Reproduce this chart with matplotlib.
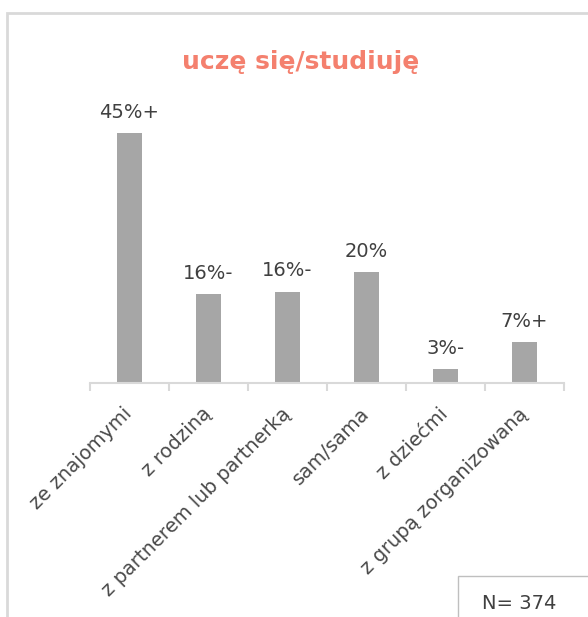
import matplotlib.pyplot as plt
from matplotlib.patches import Rectangle

# data
categories = ["ze znajomymi", "z rodziną", "z partnerem lub partnerką",
              "sam/sama", "z dziećmi", "z grupą zorganizowaną"]
values = [45.0, 16.0, 16.5, 20.0, 2.6, 7.4]
value_labels = ["45%+", "16%-", "16%-", "20%", "3%-", "7%+"]
title = "uczę się/studiuję"
n_note = "N= 374"

plt.rcParams['font.family'] = ['DejaVu Sans']

fig = plt.figure(figsize=(5.88, 6.17), dpi=100)
ax = fig.add_axes([0.153, 0.379, 0.806, 0.45])

x = range(len(categories))
ax.bar(x, values, width=0.32, color="#a6a6a6")
for xi, v, lab in zip(x, values, value_labels):
    ax.text(xi, v + 2.0, lab, ha="center", va="bottom", fontsize=14, color="#404040")

ax.set_xlim(-0.5, len(categories) - 0.5)
ax.set_ylim(0, 50)
ax.set_yticks([])
for side in ["top", "right", "left"]:
    ax.spines[side].set_visible(False)
ax.spines["bottom"].set_color("#d9d9d9")
ax.spines["bottom"].set_linewidth(1.5)

# category labels, ticks sit on the boundaries
ax.set_xticks(list(x))
ax.set_xticklabels(categories, rotation=45, ha="right", va="center",
                   rotation_mode="anchor", fontsize=14, color="#4a4a4a")
ax.tick_params(axis="x", length=0, pad=20)
ax.set_xticks([i - 0.5 for i in range(len(categories) + 1)], minor=True)
ax.tick_params(axis="x", which="minor", length=6, width=1.5, color="#d9d9d9")

fig.text(0.512, 0.9, title, ha="center", va="center", fontsize=18,
         fontweight="bold", color="#f4806e")

# outer frame and the N box
fig.patches.append(Rectangle((0.012, -0.1), 1.1, 1.079, transform=fig.transFigure,
                             fill=False, edgecolor="#d9d9d9", linewidth=2))
fig.patches.append(Rectangle((0.779, -0.1), 0.3, 0.166, transform=fig.transFigure,
                             fill=False, edgecolor="#bfbfbf", linewidth=1))
fig.text(0.82, 0.022, n_note, ha="left", va="center", fontsize=14, color="#404040")

fig.savefig("out.png", dpi=100)
